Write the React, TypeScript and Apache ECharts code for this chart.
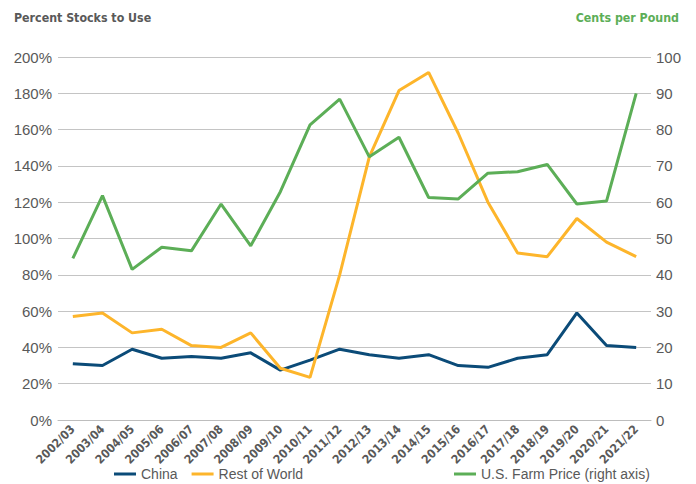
import React, { useEffect, useRef } from "react";
import * as echarts from "echarts";

const categories = [
  "2002/03", "2003/04", "2004/05", "2005/06", "2006/07", "2007/08", "2008/09",
  "2009/10", "2010/11", "2011/12", "2012/13", "2013/14", "2014/15", "2015/16",
  "2016/17", "2017/18", "2018/19", "2019/20", "2020/21", "2021/22",
];
const china = [31, 30, 39, 34, 35, 34, 37, 27.5, 33, 39, 36, 34, 36, 30, 29, 34, 36, 59, 41, 40];
const restOfWorld = [57, 59, 48, 50, 41, 40, 48, 28.5, 23.5, 80, 145, 181.5, 191.5, 158, 120, 92, 90, 111, 98, 90];
const farmPrice = [44.5, 61.8, 41.5, 47.6, 46.6, 59.5, 48, 62.9, 81.3, 88.4, 72.5, 77.9, 61.3, 60.9, 68, 68.4, 70.4, 59.5, 60.3, 90];
const leftTicks = [0, 20, 40, 60, 80, 100, 120, 140, 160, 180, 200];
const rightTicks = [0, 10, 20, 30, 40, 50, 60, 70, 80, 90, 100];

const GRAY = "#595959";
const BLUE = "#0b4b78";
const ORANGE = "#fdb52b";
const GREEN = "#5cae57";
const FONT = "'Liberation Sans', Arial, sans-serif";
const NARROW = "'Liberation Sans Narrow', 'DejaVu Sans Condensed', sans-serif";

export default function App() {
  const ref = useRef<HTMLDivElement>(null);
  useEffect(() => {
    if (!ref.current) return;
    const chart = echarts.init(ref.current, undefined, { renderer: "svg" });
    const legendText = { color: GRAY, fontSize: 14, fontFamily: FONT, lineHeight: 14 };
    chart.setOption({
      animation: false,
      backgroundColor: "#ffffff",
      textStyle: { fontFamily: FONT },
      graphic: [
        {
          type: "text", left: 14, top: 12,
          style: { text: "Percent Stocks to Use", fill: GRAY, font: `bold 12.3px ${NARROW}` },
        },
        {
          type: "text", right: 17, top: 12,
          style: { text: "Cents per Pound", fill: GREEN, font: `bold 12.3px ${NARROW}` },
        },
      ],
      grid: { left: 58, right: 45, top: 57, height: 363, containLabel: false },
      legend: [
        {
          data: ["China", "Rest of World"], left: 112, top: 465, padding: 2, itemWidth: 22, itemHeight: 3, itemGap: 14,
          icon: "rect", textStyle: legendText,
        },
        {
          data: ["U.S. Farm Price (right axis)"], left: 452, top: 465, padding: 2, itemWidth: 22, itemHeight: 3,
          icon: "rect", textStyle: legendText,
        },
      ],
      xAxis: {
        type: "category", data: categories, boundaryGap: true,
        axisLine: { lineStyle: { color: "#bdbdbd", width: 1 } },
        axisTick: { show: false },
        axisLabel: {
          rotate: 45, interval: 0, color: GRAY, fontSize: 12, fontWeight: "bold",
          fontFamily: NARROW, margin: 7,
        },
      },
      yAxis: [
        {
          type: "value", min: leftTicks[0], max: leftTicks[leftTicks.length - 1], interval: 20,
          axisLabel: { formatter: "{value}%", color: GRAY, fontSize: 15, fontFamily: FONT, margin: 6 },
          axisLine: { show: false }, axisTick: { show: false },
          splitLine: { lineStyle: { color: "#c4c4c4", width: 1 } },
        },
        {
          type: "value", min: rightTicks[0], max: rightTicks[rightTicks.length - 1], interval: 10,
          axisLabel: { color: GRAY, fontSize: 15, fontFamily: FONT, margin: 5 },
          axisLine: { show: false }, axisTick: { show: false },
          splitLine: { show: false },
        },
      ],
      series: [
        {
          name: "China", type: "line", data: china, yAxisIndex: 0, symbol: "none",
          lineStyle: { color: BLUE, width: 3 }, itemStyle: { color: BLUE },
        },
        {
          name: "Rest of World", type: "line", data: restOfWorld, yAxisIndex: 0, symbol: "none",
          lineStyle: { color: ORANGE, width: 3 }, itemStyle: { color: ORANGE },
        },
        {
          name: "U.S. Farm Price (right axis)", type: "line", data: farmPrice, yAxisIndex: 1, symbol: "none",
          lineStyle: { color: GREEN, width: 3 }, itemStyle: { color: GREEN },
        },
      ],
    });
    return () => chart.dispose();
  }, []);
  return <div ref={ref} style={{ width: 696, height: 484, position: "absolute", left: 0, top: 0 }} />;
}
